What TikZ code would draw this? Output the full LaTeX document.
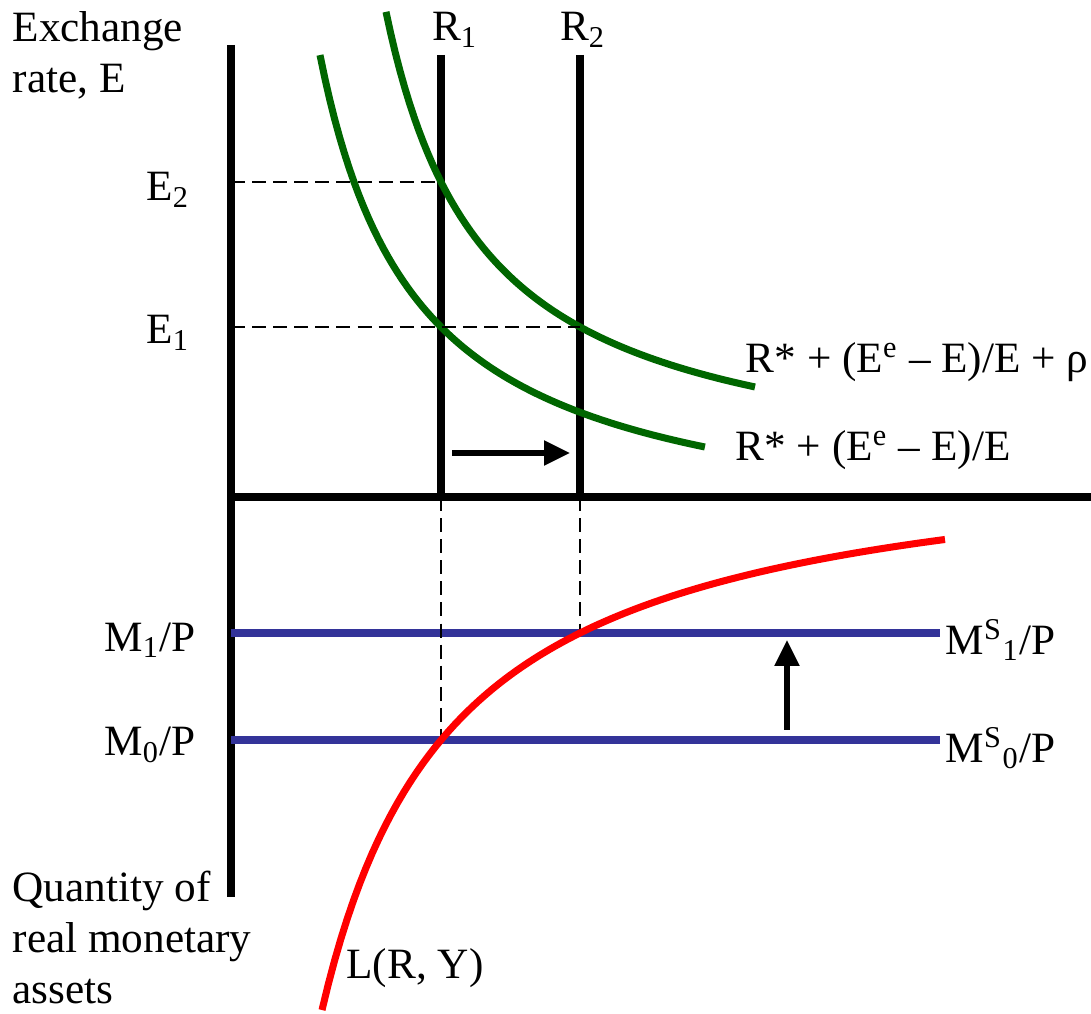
\documentclass[tikz,border=0pt]{standalone}
\usepackage{fontspec}
\setmainfont{Liberation Serif}
\usepackage{xcolor}
\definecolor{curvegreen}{RGB}{0, 102, 0}
\definecolor{supplyblue}{RGB}{51, 51, 153}
\definecolor{demandred}{RGB}{255, 0, 0}
\usepackage{tikz}
\usetikzlibrary{arrows.meta, positioning}

\begin{document}
\begin{tikzpicture}[x=1cm, y=-1cm, font=\fontsize{12.3}{14.6}\selectfont]
  \useasboundingbox (0,0) rectangle (10.91,10.14);

  % AXES - exchange rate up, money holdings down
  \coordinate (axtop) at (2.31, 0.45);
  \coordinate (axbot) at (2.31, 8.97);
  \coordinate (origin) at (2.31, 4.97);
  \coordinate (axright) at (10.91, 4.97);
  \draw[line width=2pt] (axtop) -- (axbot);
  \draw[line width=2pt] (origin) -- (axright);

  % interest rates R1 and R2
  \coordinate (r1top) at (4.41, 0.55);
  \coordinate (r1bot) at (4.41, 4.97);
  \coordinate (r2top) at (5.80, 0.55);
  \coordinate (r2bot) at (5.80, 4.97);
  \draw[line width=2pt] (r1top) -- (r1bot);
  \draw[line width=2pt] (r2top) -- (r2bot);
  \node[inner sep=0pt] (labr1) at (4.55, 0.30) {R\textsubscript{1}};
  \node[inner sep=0pt] (labr2) at (5.83, 0.30) {R\textsubscript{2}};

  % expected returns on foreign deposits
  \draw[line width=2pt, curvegreen]
    plot[domain=3.20:7.05, samples=80] (\x, {5.464 - 4.796/(\x - 2.224)});
  \draw[line width=2pt, curvegreen]
    plot[domain=3.86:7.55, samples=80] (\x, {4.873 - 4.693/(\x - 2.873)});
  \node[inner sep=0pt, anchor=west] (labfor) at (7.35, 4.50) {R* + (E\textsuperscript{e} – E)/E};
  \node[inner sep=0pt, anchor=east] (labrisk) at (10.89, 3.62) {R* + (E\textsuperscript{e} – E)/E + ρ};

  % equilibrium exchange rates
  \coordinate (e2ax) at (2.31, 1.82);
  \coordinate (e2pt) at (4.41, 1.82);
  \coordinate (e1ax) at (2.31, 3.27);
  \coordinate (e1pt) at (5.80, 3.27);
  \draw[dash pattern=on 4pt off 2pt, line width=0.6pt] (e2ax) -- (e2pt);
  \draw[dash pattern=on 4pt off 2pt, line width=0.6pt] (e1ax) -- (e1pt);
  \node[inner sep=0pt] (labe2) at (1.68, 1.90) {E\textsubscript{2}};
  \node[inner sep=0pt] (labe1) at (1.68, 3.33) {E\textsubscript{1}};

  % shift of the interest rate
  \coordinate (rshiftA) at (4.52, 4.53);
  \coordinate (rshiftB) at (5.70, 4.53);
  \draw[-{Triangle[length=0.26cm, width=0.24cm]}, line width=1.6pt] (rshiftA) -- (rshiftB);

  % MONEY MARKET
  \coordinate (m1ax) at (2.31, 6.33);
  \coordinate (m1end) at (9.40, 6.33);
  \coordinate (m0ax) at (2.31, 7.40);
  \coordinate (m0end) at (9.40, 7.40);
  \draw[line width=2pt, supplyblue] (m1ax) -- (m1end);
  \draw[line width=2pt, supplyblue] (m0ax) -- (m0end);
  \node[inner sep=0pt] (labm1) at (1.50, 6.40) {M\textsubscript{1}/P};
  \node[inner sep=0pt] (labm0) at (1.50, 7.45) {M\textsubscript{0}/P};
  \node[inner sep=0pt, anchor=west] (labms1) at (9.45, 6.40) {M\textsuperscript{S}\textsubscript{1}/P};
  \node[inner sep=0pt, anchor=west] (labms0) at (9.45, 7.48) {M\textsuperscript{S}\textsubscript{0}/P};

  % links between the two markets
  \coordinate (r1low) at (4.41, 7.40);
  \coordinate (r2low) at (5.80, 6.33);
  \draw[dash pattern=on 4pt off 2pt, line width=0.6pt] (r1bot) -- (r1low);
  \draw[dash pattern=on 4pt off 2pt, line width=0.6pt] (r2bot) -- (r2low);

  % money supply increase
  \coordinate (mshiftA) at (7.87, 7.30);
  \coordinate (mshiftB) at (7.87, 6.40);
  \draw[-{Triangle[length=0.26cm, width=0.24cm]}, line width=1.6pt] (mshiftA) -- (mshiftB);

  % money demand
  \draw[line width=2pt, demandred]
    plot[domain=3.22:9.45, samples=100] (\x, {4.394 + 7.561/(\x - 1.895)});
  \node[inner sep=0pt] (labl) at (4.15, 9.68) {L(R, Y)};

  % axis titles
  \node[inner sep=0pt, anchor=west, align=left] (labexch) at (0.12, 0.55) {Exchange\\rate, E};
  \node[inner sep=0pt, anchor=south west, align=left] (labqty) at (0.12, 10.05) {Quantity of\\real monetary\\assets};

\end{tikzpicture}
\end{document}
